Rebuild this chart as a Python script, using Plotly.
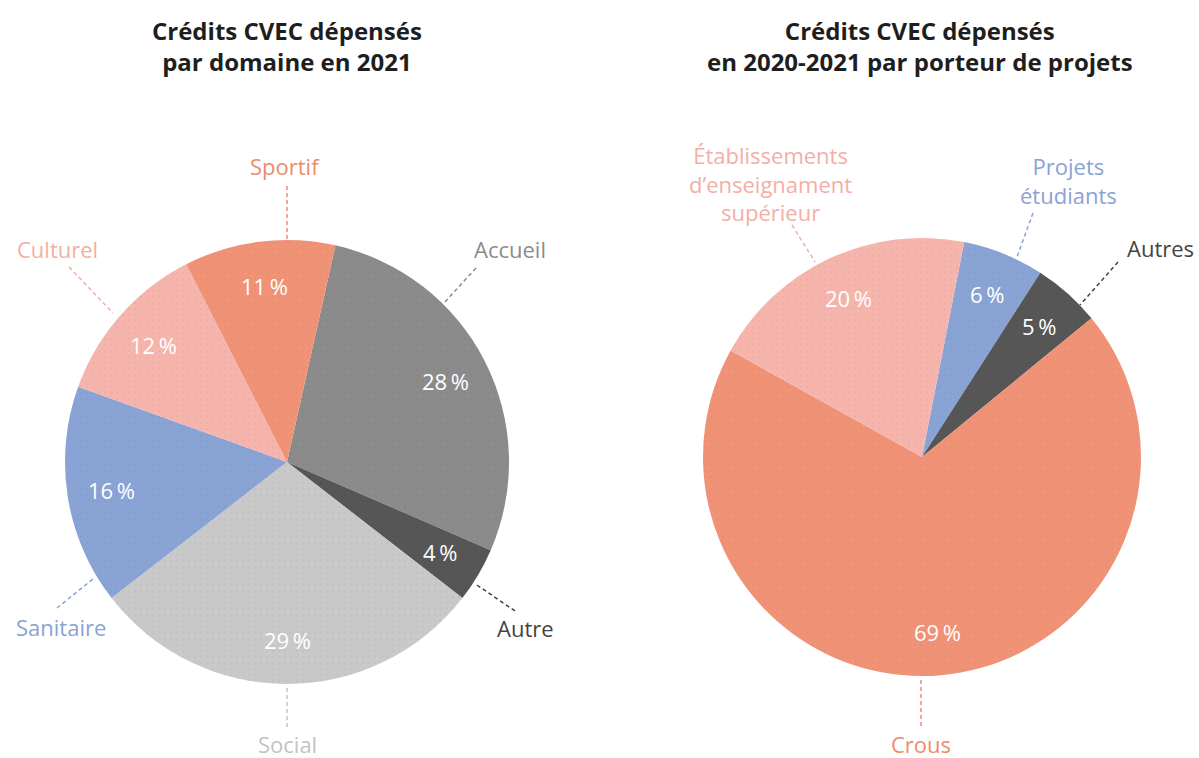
import math
import plotly.graph_objects as go

W, H = 1199, 758

# ---- Data ----
left_labels = ["Accueil", "Autre", "Social", "Sanitaire", "Culturel", "Sportif"]
left_values = [28, 4, 29, 16, 12, 11]
left_colors = ["#8b8b8b", "#565656", "#c9c9c9", "#89a3d5", "#f5b4ac", "#f09276"]
left_dot_colors = ["#848484", "#525252", "#bdbdbd", "#829ccd", "#eaaaa2", "#e58a6f"]
left_text_colors = ["#8b8b8b", "#444444", "#c3c3c3", "#89a3d5", "#f4aea6", "#ee8a6e"]

right_labels = ["Projets<br>étudiants", "Autres", "Crous", "Établissements<br>d’enseignament<br>supérieur"]
right_values = [6, 5, 69, 20]
right_colors = ["#89a3d5", "#565656", "#f09276", "#f5b4ac"]
right_dot_colors = ["#829ccd", "#525252", "#e58a6f", "#eaaaa2"]
right_text_colors = ["#89a3d5", "#444444", "#ee8a6e", "#f4aea6"]

left_title = "Crédits CVEC dépensés<br>par domaine en 2021"
right_title = "Crédits CVEC dépensés<br>en 2020-2021 par porteur de projets"

FONT = "Open Sans"

# pie geometry (pixels): centre x, centre y, radius, start rotation
LEFT_GEOM = (287, 462, 222, 12.6)
RIGHT_GEOM = (922, 457, 219, 11.1)


def px(x):
    return x / W


def py(y):
    return 1 - y / H


def domain(cx, cy, r):
    return dict(x=[px(cx - r), px(cx + r)], y=[py(cy + r), py(cy - r)])


fig = go.Figure()

for labels, values, colors, dots, geom in [
        (left_labels, left_values, left_colors, left_dot_colors, LEFT_GEOM),
        (right_labels, right_values, right_colors, right_dot_colors, RIGHT_GEOM)]:
    cx, cy, r, rot = geom
    fig.add_trace(go.Pie(
        labels=labels, values=values,
        textinfo="none",
        marker=dict(colors=colors, line=dict(width=0),
                    pattern=dict(shape=".", fgcolor=dots, size=6, solidity=0.15,
                                 fillmode="overlay")),
        sort=False, direction="clockwise", rotation=rot,
        domain=domain(cx, cy, r),
        hoverinfo="label+percent", showlegend=False,
    ))

annotations = []
shapes = []

# percentage labels placed at 0.8 radius along each slice's mid-angle
for values, geom in [(left_values, LEFT_GEOM), (right_values, RIGHT_GEOM)]:
    cx, cy, r, rot = geom
    total = sum(values)
    cum = 0
    for v in values:
        mid = rot + (cum + v / 2) / total * 360
        cum += v
        a = math.radians(mid)
        x = cx + 0.8 * r * math.sin(a)
        y = cy - 0.8 * r * math.cos(a)
        annotations.append(dict(
            text=f"{v}\u2009%", x=px(x), y=py(y), xref="paper", yref="paper",
            showarrow=False, xanchor="center", yanchor="middle",
            font=dict(family=FONT, size=22, color="white")))

# titles
for t, cx in [(left_title, 287), (right_title, 920)]:
    annotations.append(dict(
        text=f"<b>{t}</b>", x=px(cx), y=py(46), xref="paper", yref="paper",
        showarrow=False, xanchor="center", yanchor="middle",
        font=dict(family=FONT, size=24, color="#1e1e1e"), align="center"))

# outside labels: text centre, leader line start, leader line end
left_pos = {
    "Sportif": ((285, 166), (287, 186), (287, 240)),
    "Culturel": ((57, 249), (69, 267), (113, 313)),
    "Accueil": ((510, 249), (476, 268), (444, 303)),
    "Autre": ((525, 628), (477, 585), (515, 611)),
    "Sanitaire": ((61, 627), (57, 608), (93, 579)),
    "Social": ((287, 744), (287, 688), (287, 728)),
}
right_pos = {
    "Établissements<br>d’enseignament<br>supérieur": ((770, 184), (792, 225), (815, 262)),
    "Projets<br>étudiants": ((1068, 181), (1033, 213), (1017, 257)),
    "Autres": ((1160, 248), (1118, 262), (1080, 305)),
    "Crous": ((921, 744), (921, 680), (921, 728)),
}

for labels, tcolors, pos in [(left_labels, left_text_colors, left_pos),
                             (right_labels, right_text_colors, right_pos)]:
    for lab, col in zip(labels, tcolors):
        (tx, ty), (x0, y0), (x1, y1) = pos[lab]
        annotations.append(dict(
            text=lab, x=px(tx), y=py(ty), xref="paper", yref="paper",
            showarrow=False, xanchor="center", yanchor="middle", align="center",
            font=dict(family=FONT, size=22, color=col)))
        shapes.append(dict(
            type="line", xref="paper", yref="paper",
            x0=px(x0), y0=py(y0), x1=px(x1), y1=py(y1),
            line=dict(color=col, width=1.5, dash="4px,3px")))

fig.update_layout(
    width=W, height=H,
    margin=dict(l=0, r=0, t=0, b=0),
    paper_bgcolor="white", plot_bgcolor="white",
    annotations=annotations, shapes=shapes,
    font=dict(family=FONT),
)

fig.write_html("out.html", config={"displayModeBar": False},
               post_script="document.body.style.margin='0';document.body.style.overflow='hidden';")
